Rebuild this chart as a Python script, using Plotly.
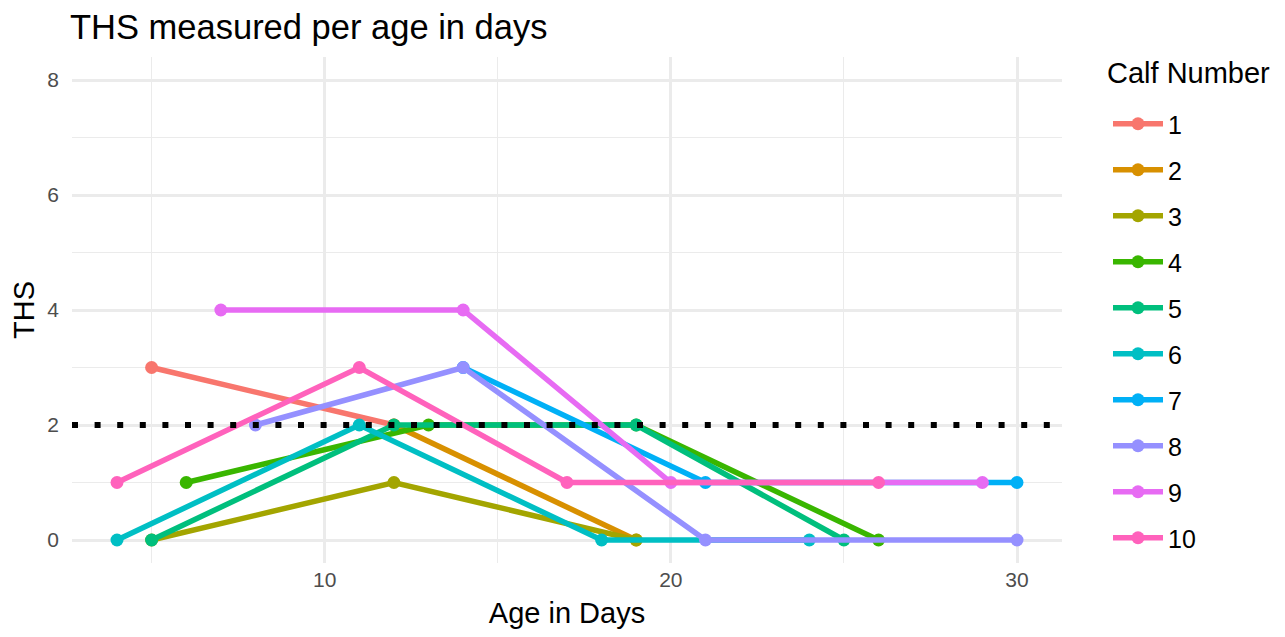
import plotly.graph_objects as go

# THS scores per calf
calves = ["1", "2", "3", "4", "5", "6", "7", "8", "9", "10"]
age_days = [
    [5, 12],
    [12, 19],
    [5, 12, 19],
    [6, 13, 19, 26],
    [5, 12, 19, 25],
    [4, 11, 18, 24],
    [14, 21, 30],
    [8, 14, 21, 30],
    [7, 14, 20, 29],
    [4, 11, 17, 26],
]
ths = [
    [3, 2],
    [2, 0],
    [0, 1, 0],
    [1, 2, 2, 0],
    [0, 2, 2, 0],
    [0, 2, 0, 0],
    [3, 1, 1],
    [2, 3, 0, 0],
    [4, 4, 1, 1],
    [1, 3, 1, 1],
]
threshold = 2
colors = ["#F8766D", "#D89000", "#A3A500", "#39B600", "#00BF7D",
          "#00BFC4", "#00B0F6", "#9590FF", "#E76BF3", "#FF62BC"]

fig = go.Figure()
for name, x, y, c in zip(calves, age_days, ths, colors):
    fig.add_trace(go.Scatter(
        x=x, y=y, mode="lines+markers", name=name, legendgroup=name,
        line=dict(color=c, width=5.5), marker=dict(color=c, size=13),
    ))

# reference line at THS = 2
fig.add_hline(y=threshold, line=dict(color="black", width=6, dash="6px,16.6px"))

grid = "#ebebeb"
W, H = 1269, 621  # page body has an 8px margin
L, R, T, B = 64, 215, 49, 66
PW, PH = W - L - R, H - T - B

# legend title drawn as annotation so the gap to the first key matches
fig.add_annotation(text="Calf Number", xref="paper", yref="paper",
                   x=(1097 - L) / PW, y=1 - (65 - T) / PH,
                   xanchor="left", yanchor="middle", showarrow=False,
                   font=dict(size=29, color="black"))

fig.update_layout(
    template="plotly_white",
    width=W, height=H,
    font=dict(family="Liberation Sans, Arial, sans-serif", color="black"),
    title=dict(text="THS measured per age in days", xref="container", x=62 / W,
               xanchor="left", y=1 - 19 / H, yanchor="middle",
               font=dict(size=34.5, color="black")),
    margin=dict(l=L, r=R, t=T, b=B),
    plot_bgcolor="white",
    legend=dict(font=dict(size=25), tracegroupgap=10.5, itemwidth=50,
                maxheight=1, x=(1100 - L) / PW, xanchor="left",
                y=1 - (93 - T) / PH, yanchor="top"),
    xaxis=dict(range=[2.7, 31.3], tickvals=[10, 20, 30], showgrid=True,
               gridcolor=grid, gridwidth=2.7, zeroline=False, automargin=False,
               minor=dict(tickvals=[5, 15, 25], showgrid=True, gridcolor=grid, gridwidth=1.3),
               tickfont=dict(size=21, color="#4d4d4d"), ticks="", ticklabelstandoff=2,
               title=dict(text="Age in Days", font=dict(size=29), standoff=14)),
    yaxis=dict(range=[-0.4, 8.4], tickvals=[0, 2, 4, 6, 8], showgrid=True,
               gridcolor=grid, gridwidth=2.7, zeroline=False, automargin=False,
               minor=dict(tickvals=[1, 3, 5, 7], showgrid=True, gridcolor=grid, gridwidth=1.3),
               tickfont=dict(size=21, color="#4d4d4d"), ticks="", ticklabelstandoff=12,
               title=dict(text="THS", font=dict(size=29), standoff=10)),
)

fig.write_html("out.html")
